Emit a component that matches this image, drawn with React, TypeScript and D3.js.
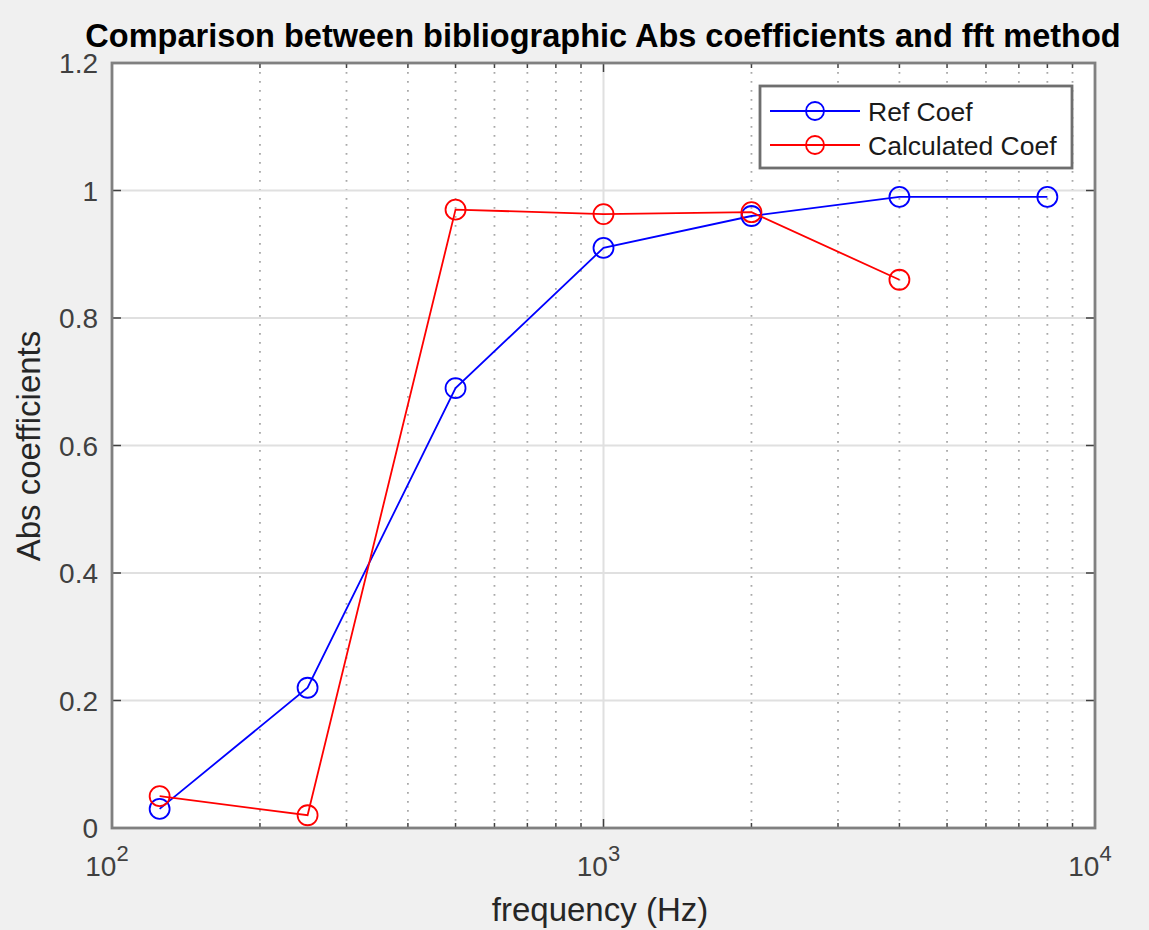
import * as d3 from 'd3'

const freqs = [125, 250, 500, 1000, 2000, 4000, 8000]
const refCoef = [0.03, 0.22, 0.69, 0.91, 0.96, 0.99, 0.99]
const calcFreqs = [125, 250, 500, 1000, 2000, 4000]
const calcCoef = [0.05, 0.02, 0.97, 0.963, 0.966, 0.86]
const yTicks = [0, 0.2, 0.4, 0.6, 0.8, 1, 1.2]
const xMajor = [100, 1000, 10000]
const xExp = ['2', '3', '4']
const seriesNames = ['Ref Coef', 'Calculated Coef']

const W = 1149
const H = 930
const margin = { top: 63, right: W - 1095, bottom: H - 828, left: 112 }
const FONT = 'Liberation Sans, Arial, Helvetica, sans-serif'

export default function App() {
  const innerW = W - margin.left - margin.right
  const innerH = H - margin.top - margin.bottom

  const x = d3.scaleLog().domain([100, 10000]).range([0, innerW])
  const y = d3.scaleLinear().domain([0, 1.2]).range([innerH, 0])

  const xMinor: number[] = []
  for (const base of [100, 1000]) {
    for (let k = 2; k <= 9; k++) xMinor.push(base * k)
  }

  const line = d3
    .line<[number, number]>()
    .x((d) => x(d[0]))
    .y((d) => y(d[1]))

  const refPts: [number, number][] = freqs.map((f, i) => [f, refCoef[i]])
  const calcPts: [number, number][] = calcFreqs.map((f, i) => [f, calcCoef[i]])
  const series = [
    { name: seriesNames[0], pts: refPts, color: '#0000ff' },
    { name: seriesNames[1], pts: calcPts, color: '#ff0000' },
  ]

  const axisColor = '#808080'
  const tickText = '#404040'

  return (
    <svg width={W} height={H} style={{ display: 'block', position: 'absolute', left: 0, top: 0, background: '#f0f0f0' }}>
      <rect x={0} y={0} width={W} height={H} fill="#f0f0f0" />
      <g transform={`translate(${margin.left},${margin.top})`}>
        <rect x={0} y={0} width={innerW} height={innerH} fill="#ffffff" />
        {/* minor grid (x only) */}
        {xMinor.map((v) => (
          <line key={`mg${v}`} x1={x(v)} x2={x(v)} y1={0} y2={innerH} stroke="#a8a8a8" strokeWidth={1.8} strokeDasharray="1.8,7.2" />
        ))}
        {/* major grid */}
        {yTicks.slice(1, -1).map((v) => (
          <line key={`gy${v}`} x1={0} x2={innerW} y1={y(v)} y2={y(v)} stroke="#e0e0e0" strokeWidth={2} />
        ))}
        {xMajor.slice(1, -1).map((v) => (
          <line key={`gx${v}`} x1={x(v)} x2={x(v)} y1={0} y2={innerH} stroke="#e0e0e0" strokeWidth={2} />
        ))}
        {/* ticks */}
        {yTicks.map((v) => (
          <g key={`ty${v}`}>
            <line x1={0} x2={9} y1={y(v)} y2={y(v)} stroke="#404040" strokeWidth={1.5} />
            <line x1={innerW - 9} x2={innerW} y1={y(v)} y2={y(v)} stroke="#404040" strokeWidth={1.5} />
            <text x={-14} y={y(v)} dy="0.36em" textAnchor="end" fontFamily={FONT} fontSize={28} fill={tickText}>
              {String(v)}
            </text>
          </g>
        ))}
        {xMajor.map((v) => (
          <g key={`tx${v}`}>
            <line x1={x(v)} x2={x(v)} y1={innerH} y2={innerH - 9} stroke="#404040" strokeWidth={1.5} />
            <line x1={x(v)} x2={x(v)} y1={0} y2={9} stroke="#404040" strokeWidth={1.5} />
          </g>
        ))}
        {xMinor.map((v) => (
          <g key={`tm${v}`}>
            <line x1={x(v)} x2={x(v)} y1={innerH} y2={innerH - 5} stroke="#404040" strokeWidth={1.5} />
            <line x1={x(v)} x2={x(v)} y1={0} y2={5} stroke="#404040" strokeWidth={1.5} />
          </g>
        ))}
        {xMajor.map((v, i) => (
          <text key={`xl${v}`} x={x(v) - 5} y={innerH + 48} textAnchor="middle" fontFamily={FONT} fontSize={28} fill={tickText}>
            10
            <tspan dy={-15} fontSize={22}>
              {xExp[i]}
            </tspan>
          </text>
        ))}
        {/* series */}
        {series.map((s) => (
          <g key={s.name}>
            <path d={line(s.pts) ?? ''} fill="none" stroke={s.color} strokeWidth={1.8} />
            {s.pts.map((p, i) => (
              <circle key={i} cx={x(p[0])} cy={y(p[1])} r={10} fill="none" stroke={s.color} strokeWidth={1.8} />
            ))}
          </g>
        ))}
        {/* frame */}
        <rect x={0} y={0} width={innerW} height={innerH} fill="none" stroke={axisColor} strokeWidth={2.8} />
        {/* legend */}
        <g transform={`translate(${760 - margin.left},${86 - margin.top})`}>
          <rect x={0} y={0} width={312} height={82} fill="#ffffff" stroke="#6e6e6e" strokeWidth={2.8} />
          {series.map((s, i) => (
            <g key={`lg${s.name}`} transform={`translate(0,${25 + i * 34})`}>
              <line x1={10} x2={100} y1={0} y2={0} stroke={s.color} strokeWidth={1.8} />
              <circle cx={55} cy={0} r={9} fill="none" stroke={s.color} strokeWidth={1.8} />
              <text x={108} y={0} dy="0.36em" fontFamily={FONT} fontSize={26.5} fill="#1a1a1a">
                {s.name}
              </text>
            </g>
          ))}
        </g>
      </g>
      {/* title and labels */}
      <text x={603} y={47} textAnchor="middle" fontFamily={FONT} fontSize={32.5} fontWeight="bold" fill="#000000">
        Comparison between bibliographic Abs coefficients and fft method
      </text>
      <text x={600} y={921} textAnchor="middle" fontFamily={FONT} fontSize={33} fill="#262626">
        frequency (Hz)
      </text>
      <text transform="translate(40,446) rotate(-90)" textAnchor="middle" fontFamily={FONT} fontSize={33} fill="#262626">
        Abs coefficients
      </text>
    </svg>
  )
}
